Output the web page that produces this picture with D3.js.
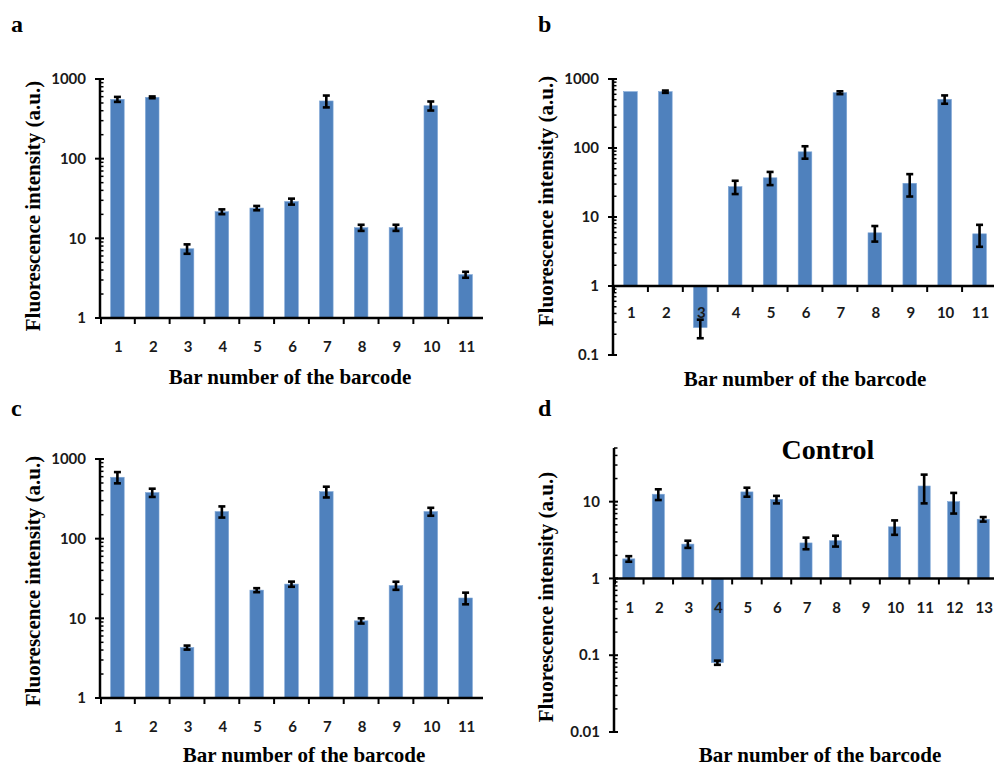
<!DOCTYPE html>
<html><head><meta charset="utf-8">
<script src="https://cdn.jsdelivr.net/npm/d3@7/dist/d3.min.js"></script>
<style>body{margin:0;background:#fff}svg{display:block}</style>
</head><body>
<svg id="chart" width="994" height="767"></svg>
<script>
// ---- data ----
const barsA = ["1","2","3","4","5","6","7","8","9","10","11"];
const valuesA = [556, 589, 7.4, 21.6, 24, 29, 530, 13.6, 13.6, 462, 3.5];
const errorsA = [40, 15, 1, 1.5, 1.5, 2.5, 90, 1.2, 1.2, 60, 0.3];

const barsB = ["1","2","3","4","5","6","7","8","9","10","11"];
const valuesB = [655, 655, 0.25, 27.5, 37, 88, 633, 5.9, 30.8, 508, 5.7];
const errorsB = [0, 25, 0.075, 6, 8, 18, 30, 1.5, 11, 70, 2];

const barsC = ["1","2","3","4","5","6","7","8","9","10","11"];
const valuesC = [590, 379, 4.3, 219, 22.6, 26.9, 389, 9.3, 25.8, 219, 18];
const errorsC = [95, 45, 0.25, 35, 1.3, 2, 60, 0.7, 3, 25, 3];

const barsD = ["1","2","3","4","5","6","7","8","9","10","11","12","13"];
const valuesD = [1.8, 12.5, 2.8, 0.08, 13.4, 10.7, 2.9, 3.1, 1, 4.7, 16, 10, 5.9];
const errorsD = [0.15, 2, 0.3, 0.005, 1.8, 1.2, 0.5, 0.5, 0, 1, 6.5, 3, 0.4];

const ticksAC = [1, 10, 100, 1000];
const ticksB = [0.1, 1, 10, 100, 1000];
const ticksD = [0.01, 0.1, 1, 10];

const yTitle = "Fluorescence intensity (a.u.)";
const xTitle = "Bar number of the barcode";

// ---- drawing ----
const svg = d3.select("#chart");
const BAR = "#4F81BD";
const serif = "'Liberation Serif','Times New Roman',serif";
const sans = "Lato,'Open Sans',sans-serif";

function panel(o) {
  const g = svg.append("g");
  const x = d3.scaleBand().domain(o.bars).range([o.x0, o.x1]);
  const y = d3.scaleLog().domain(o.domain).range([o.yBottom, o.yTop]);
  const base = y(1);
  const bw = x.bandwidth() * o.barFrac;

  // bars
  g.selectAll("rect.bar").data(o.values).enter().append("rect")
    .attr("x", (d, i) => x(o.bars[i]) + x.bandwidth() / 2 - bw / 2)
    .attr("y", d => Math.min(y(d), base))
    .attr("width", bw)
    .attr("height", d => Math.abs(y(d) - base))
    .attr("fill", BAR)
    .attr("stroke", "#7ea6d6").attr("stroke-width", 0.6);

  // error bars
  o.values.forEach((v, i) => {
    const e = o.errors[i];
    if (!e) return;
    const cx = x(o.bars[i]) + x.bandwidth() / 2;
    const y1 = y(v + e), y2 = y(Math.max(v - e, o.domain[0]));
    g.append("line").attr("x1", cx).attr("x2", cx).attr("y1", y1).attr("y2", y2)
      .attr("stroke", "#000").attr("stroke-width", 2.6);
    [y1, y2].forEach(yy => g.append("line").attr("x1", cx - 3.5).attr("x2", cx + 3.5)
      .attr("y1", yy).attr("y2", yy).attr("stroke", "#000").attr("stroke-width", 2.6));
  });

  // y axis line
  g.append("line").attr("x1", o.x0).attr("x2", o.x0).attr("y1", o.yBottom).attr("y2", o.yTop)
    .attr("stroke", "#000").attr("stroke-width", 2.5);
  // minor ticks
  const lo = Math.round(Math.log10(o.domain[0]));
  const hiLog = Math.log10(o.domain[1]);
  for (let p = lo; p < hiLog; p++) {
    for (let m = 2; m <= 9; m++) {
      const v = m * Math.pow(10, p);
      if (v > o.domain[1] + 1e-9) break;
      g.append("line").attr("x1", o.x0).attr("x2", o.x0 + 3.5).attr("y1", y(v)).attr("y2", y(v))
        .attr("stroke", "#000").attr("stroke-width", 1.5);
    }
  }
  // major ticks + labels
  o.ticks.forEach(t => {
    g.append("line").attr("x1", o.x0 - 5).attr("x2", o.x0 + 4).attr("y1", y(t)).attr("y2", y(t))
      .attr("stroke", "#000").attr("stroke-width", 2);
    g.append("text").attr("x", o.x0 - 14).attr("y", y(t)).attr("dy", "0.35em")
      .attr("text-anchor", "end").attr("font-family", sans).attr("font-weight", 700)
      .attr("font-size", 15).attr("fill", "#1a1a1a").text(t);
  });

  // x axis line at 1
  g.append("line").attr("x1", o.x0).attr("x2", o.x1).attr("y1", base).attr("y2", base)
    .attr("stroke", "#000").attr("stroke-width", 2.5);
  // x ticks at band edges
  o.bars.forEach((b, i) => {
    const xx = x(b);
    if (i > 0) g.append("line").attr("x1", xx).attr("x2", xx).attr("y1", base).attr("y2", base + 6)
      .attr("stroke", "#000").attr("stroke-width", 2);
  });
  g.append("line").attr("x1", o.x0 + 1).attr("x2", o.x0 + 1).attr("y1", base).attr("y2", base + 6)
    .attr("stroke", "#000").attr("stroke-width", 2);
  // x labels
  g.selectAll("text.xl").data(o.bars).enter().append("text")
    .attr("x", d => x(d) + x.bandwidth() / 2 + 1).attr("y", base + o.labelOff)
    .attr("dy", "0.35em").attr("text-anchor", "middle")
    .attr("font-family", sans).attr("font-weight", 700).attr("font-size", 15)
    .attr("fill", "#1a1a1a").text(d => d);

  // titles
  g.append("text").attr("transform", `translate(${o.yTitleX},${o.yTitleY}) rotate(-90)`)
    .attr("text-anchor", "middle").attr("dy", "0.35em")
    .attr("font-family", serif).attr("font-weight", 700).attr("font-size", 21)
    .text(yTitle);
  g.append("text").attr("x", o.xTitleX).attr("y", o.xTitleY).attr("dy", "0.35em")
    .attr("text-anchor", "middle")
    .attr("font-family", serif).attr("font-weight", 700).attr("font-size", 21)
    .text(xTitle);
  g.append("text").attr("x", o.letterX).attr("y", o.letterY)
    .attr("font-family", serif).attr("font-weight", 700).attr("font-size", 24)
    .text(o.letter);
  if (o.title) {
    g.append("text").attr("x", o.titleX).attr("y", o.titleY).attr("dy", "0.35em")
      .attr("text-anchor", "middle")
      .attr("font-family", serif).attr("font-weight", 700).attr("font-size", 28)
      .text(o.title);
  }
}

panel({bars: barsA, values: valuesA, errors: errorsA, ticks: ticksAC, domain: [1, 1000],
  x0: 100, x1: 483, yBottom: 318, yTop: 79, barFrac: 0.39, labelOff: 29,
  yTitleX: 33, yTitleY: 206, xTitleX: 290, xTitleY: 377, letter: "a", letterX: 11, letterY: 32});
panel({bars: barsB, values: valuesB, errors: errorsB, ticks: ticksB, domain: [0.1, 1000],
  x0: 613, x1: 997, yBottom: 355, yTop: 79, barFrac: 0.39, labelOff: 27,
  yTitleX: 546, yTitleY: 201, xTitleX: 805, xTitleY: 379, letter: "b", letterX: 538, letterY: 32});
panel({bars: barsC, values: valuesC, errors: errorsC, ticks: ticksAC, domain: [1, 1000],
  x0: 100, x1: 483, yBottom: 698, yTop: 459, barFrac: 0.39, labelOff: 29,
  yTitleX: 33, yTitleY: 581, xTitleX: 304, xTitleY: 755, letter: "c", letterX: 11, letterY: 416});
panel({bars: barsD, values: valuesD, errors: errorsD, ticks: ticksD, domain: [0.01, 50],
  x0: 614, x1: 998, yBottom: 732, yTop: 448, barFrac: 0.41, labelOff: 29,
  yTitleX: 546, yTitleY: 597, xTitleX: 820, xTitleY: 755, letter: "d", letterX: 538, letterY: 416,
  title: "Control", titleX: 828, titleY: 449});
</script>
</body></html>
